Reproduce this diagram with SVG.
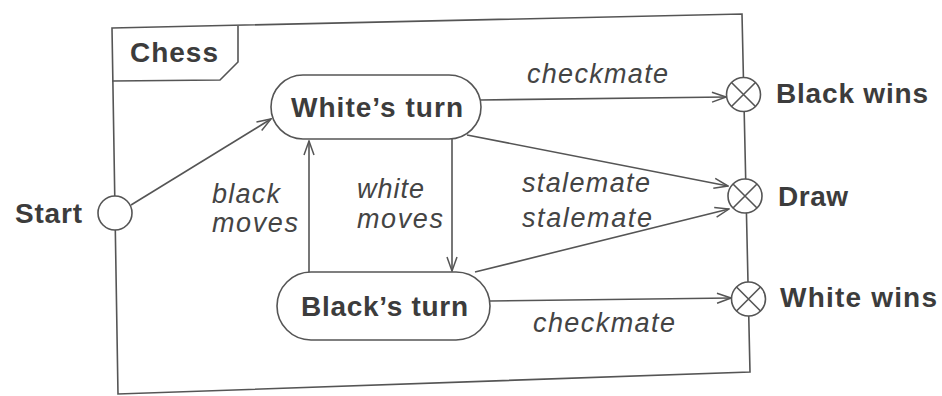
<svg xmlns="http://www.w3.org/2000/svg" width="942" height="396" viewBox="0 0 942 396">
<defs>
<style>
.ln{fill:none;stroke:#555;stroke-width:1.6}
.st{fill:#fff;stroke:#555;stroke-width:1.6}
.b{font-family:"Liberation Sans",Arial,sans-serif;font-weight:bold;font-size:28px;fill:#3c3c3c}
.i{font-family:"Liberation Sans",Arial,sans-serif;font-style:italic;font-size:27px;fill:#444}
</style>
<marker id="ar" markerWidth="16" markerHeight="12" refX="15" refY="6" orient="auto" markerUnits="userSpaceOnUse">
<path d="M1,1 L15,6 L1,11" fill="none" stroke="#555" stroke-width="1.5"/>
</marker>
</defs>
<rect width="942" height="396" fill="#fff"/>
<g id="frame">
<path class="ln" d="M112,28 L742,14 L750,372 L118,394 Z"/>
<path class="ln" d="M238,26 L238,62 L220,80 L112,81"/>
<text class="b" x="130" y="62" textLength="88" lengthAdjust="spacing">Chess</text>
</g>
<g id="connectors">
<line class="ln" x1="131" y1="205" x2="271" y2="119" marker-end="url(#ar)"/>
<line class="ln" x1="309" y1="272" x2="309" y2="141" marker-end="url(#ar)"/>
<line class="ln" x1="452" y1="139" x2="452" y2="271" marker-end="url(#ar)"/>
<line class="ln" x1="480" y1="100" x2="726" y2="97" marker-end="url(#ar)"/>
<line class="ln" x1="467" y1="135" x2="728" y2="186" marker-end="url(#ar)"/>
<line class="ln" x1="475" y1="272" x2="729" y2="209" marker-end="url(#ar)"/>
<line class="ln" x1="490" y1="301" x2="731" y2="298" marker-end="url(#ar)"/>
<text class="i" x="527" y="83" textLength="141" lengthAdjust="spacing">checkmate</text>
<text class="i" x="533" y="332" textLength="142" lengthAdjust="spacing">checkmate</text>
<text class="i" x="212" y="203" textLength="68" lengthAdjust="spacing">black</text>
<text class="i" x="212" y="232" textLength="86" lengthAdjust="spacing">moves</text>
<text class="i" x="357" y="198" textLength="67" lengthAdjust="spacing">white</text>
<text class="i" x="357" y="228" textLength="86" lengthAdjust="spacing">moves</text>
<text class="i" x="522" y="192" textLength="128" lengthAdjust="spacing">stalemate</text>
<text class="i" x="522" y="227" textLength="130" lengthAdjust="spacing">stalemate</text>
</g>
<g id="start">
<circle class="st" cx="115" cy="213" r="17"/>
<text class="b" x="15" y="223" textLength="67" lengthAdjust="spacing">Start</text>
</g>
<g id="whites-turn">
<rect class="st" x="271" y="75" width="210" height="64" rx="32" ry="32"/>
<text class="b" x="291" y="117" textLength="172" lengthAdjust="spacing">White’s turn</text>
</g>
<g id="blacks-turn">
<rect class="st" x="277" y="272" width="213" height="68" rx="34" ry="34"/>
<text class="b" x="301" y="316" textLength="167" lengthAdjust="spacing">Black’s turn</text>
</g>
<g id="black-wins">
<circle class="st" cx="743.5" cy="94.5" r="17"/>
<path class="ln" d="M731.5,82.5 L755.5,106.5 M755.5,82.5 L731.5,106.5"/>
<text class="b" x="776" y="103" textLength="152" lengthAdjust="spacing">Black wins</text>
</g>
<g id="draw">
<circle class="st" cx="745" cy="196" r="17"/>
<path class="ln" d="M733,184 L757,208 M757,184 L733,208"/>
<text class="b" x="778" y="206" textLength="70" lengthAdjust="spacing">Draw</text>
</g>
<g id="white-wins">
<circle class="st" cx="748.5" cy="299" r="17"/>
<path class="ln" d="M736.5,287 L760.5,311 M760.5,287 L736.5,311"/>
<text class="b" x="780" y="307" textLength="157" lengthAdjust="spacing">White wins</text>
</g>
</svg>
